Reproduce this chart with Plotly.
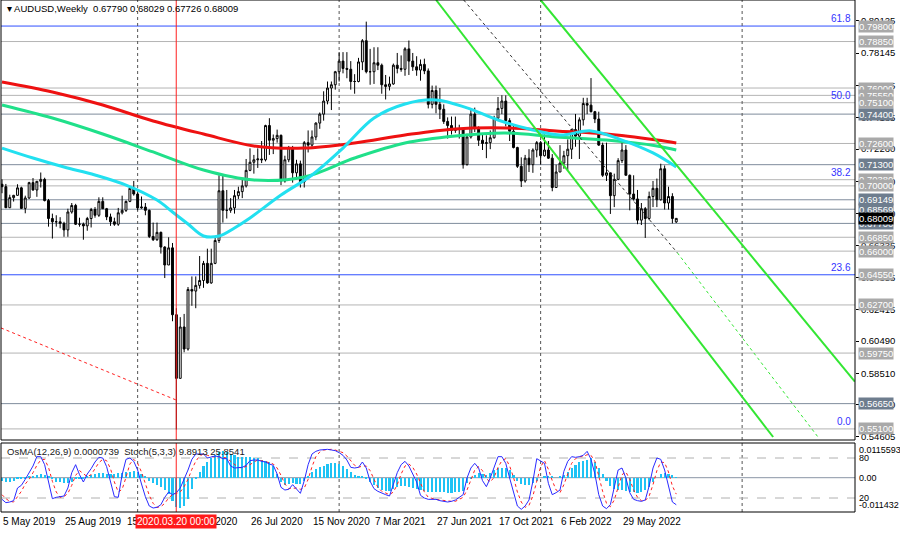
import plotly.graph_objects as go
import pandas as pd

# ---------------- data ----------------
week_start = "2019-05-05"
n_bars = 175
dates = pd.date_range(week_start, periods=n_bars, freq="7D")

opens = [0.7010,0.6995,0.6866,0.6928,0.6942,0.6988,0.6862,0.6926,0.7020,0.6975,
0.7028,0.7040,0.6910,0.6800,0.6780,0.6780,0.6770,0.6730,0.6840,0.6880,
0.6765,0.6765,0.6755,0.6800,0.6855,0.6820,0.6905,0.6860,0.6810,0.6780,
0.6765,0.6835,0.6850,0.6905,0.6985,0.6950,0.6865,0.6870,0.6850,0.6690,
0.6670,0.6715,0.6625,0.6515,0.6620,0.6210,0.5820,0.6135,0.6000,0.6365,
0.6355,0.6390,0.6420,0.6525,0.6405,0.6525,0.6665,0.6970,0.6850,0.6850,
0.6865,0.6940,0.6965,0.7000,0.7095,0.7145,0.7160,0.7165,0.7160,0.7370,
0.7280,0.7290,0.7310,0.7030,0.7160,0.7235,0.7080,0.7135,0.7025,0.7265,
0.7250,0.7300,0.7385,0.7440,0.7520,0.7600,0.7620,0.7700,0.7765,0.7720,
0.7715,0.7640,0.7640,0.7760,0.7890,0.7700,0.7700,0.7755,0.7740,0.7620,
0.7610,0.7625,0.7740,0.7720,0.7715,0.7840,0.7765,0.7730,0.7710,0.7745,
0.7705,0.7500,0.7585,0.7500,0.7470,0.7395,0.7370,0.7340,0.7350,0.7350,
0.7130,0.7300,0.7440,0.7355,0.7280,0.7260,0.7265,0.7295,0.7415,0.7475,
0.7520,0.7400,0.7335,0.7235,0.7120,0.7030,0.7170,0.7130,0.7220,0.7265,
0.7185,0.7220,0.7170,0.6990,0.7085,0.7140,0.7185,0.7225,0.7345,0.7305,
0.7405,0.7505,0.7495,0.7455,0.7410,0.7250,0.7065,0.7080,0.6940,0.7040,
0.7155,0.7220,0.7065,0.6950,0.6920,0.6790,0.6860,0.6800,0.6935,0.6985,
0.6915,0.7105,0.6895,0.6935,0.67790]

highs = [0.7040,0.7012,0.6946,0.6945,0.7010,0.6995,0.6940,0.7025,0.7048,0.7030,
0.7082,0.7050,0.6920,0.6830,0.6820,0.6808,0.6780,0.6860,0.6895,0.6890,
0.6805,0.6775,0.6810,0.6865,0.6870,0.6930,0.6930,0.6865,0.6830,0.6805,
0.6865,0.6940,0.6910,0.6995,0.7030,0.6960,0.6935,0.6895,0.6855,0.6775,
0.6775,0.6720,0.6630,0.6685,0.6650,0.6250,0.6195,0.6215,0.6380,0.6445,
0.6445,0.6570,0.6540,0.6615,0.6615,0.6685,0.7065,0.7065,0.6975,0.6925,
0.6975,0.6995,0.7040,0.7165,0.7230,0.7190,0.7230,0.7275,0.7375,0.7415,
0.7315,0.7345,0.7315,0.7185,0.7245,0.7245,0.7160,0.7155,0.7275,0.7340,
0.7340,0.7390,0.7450,0.7580,0.7640,0.7640,0.7705,0.7820,0.7820,0.7820,
0.7765,0.7685,0.7785,0.7900,0.8007,0.7840,0.7850,0.7850,0.7750,0.7680,
0.7670,0.7750,0.7815,0.7800,0.7850,0.7891,0.7815,0.7795,0.7775,0.7780,
0.7720,0.7615,0.7615,0.7600,0.7500,0.7420,0.7425,0.7425,0.7375,0.7355,
0.7320,0.7475,0.7480,0.7365,0.7315,0.7310,0.7340,0.7430,0.7545,0.7556,
0.7555,0.7415,0.7370,0.7240,0.7175,0.7190,0.7225,0.7230,0.7275,0.7275,
0.7315,0.7275,0.7195,0.7130,0.7250,0.7215,0.7285,0.7350,0.7441,0.7420,
0.7540,0.7540,0.7661,0.7460,0.7455,0.7265,0.7265,0.7080,0.7075,0.7170,
0.7283,0.7250,0.7070,0.7065,0.6975,0.6895,0.6870,0.6965,0.7030,0.7045,
0.7136,0.7125,0.6995,0.6955,0.68029]

lows = [0.6955,0.6865,0.6865,0.6904,0.6940,0.6860,0.6832,0.6920,0.6970,0.6933,
0.6990,0.6905,0.6750,0.6677,0.6750,0.6740,0.6688,0.6688,0.6830,0.6760,
0.6750,0.6670,0.6725,0.6745,0.6805,0.6810,0.6860,0.6790,0.6755,0.6755,
0.6755,0.6825,0.6840,0.6900,0.6940,0.6850,0.6860,0.6820,0.6680,0.6662,
0.6663,0.6585,0.6435,0.6515,0.6170,0.5506,0.5820,0.5980,0.5990,0.6265,
0.6250,0.6370,0.6375,0.6400,0.6400,0.6520,0.6650,0.6775,0.6800,0.6835,
0.6830,0.6920,0.6925,0.6990,0.7090,0.7075,0.7110,0.7140,0.7150,0.7190,
0.7195,0.7265,0.7005,0.7020,0.7145,0.7020,0.7040,0.6990,0.6990,0.7205,
0.7240,0.7280,0.7350,0.7400,0.7500,0.7465,0.7590,0.7640,0.7690,0.7660,
0.7590,0.7565,0.7635,0.7710,0.7690,0.7620,0.7625,0.7710,0.7565,0.7530,
0.7585,0.7620,0.7690,0.7700,0.7675,0.7680,0.7705,0.7675,0.7645,0.7685,
0.7475,0.7475,0.7445,0.7410,0.7380,0.7290,0.7315,0.7325,0.7290,0.7106,
0.7125,0.7290,0.7330,0.7245,0.7220,0.7170,0.7225,0.7290,0.7400,0.7440,
0.7365,0.7275,0.7230,0.7110,0.6993,0.7020,0.7085,0.7080,0.7175,0.7130,
0.7180,0.7165,0.6967,0.6990,0.7085,0.7105,0.7095,0.7165,0.7240,0.7165,
0.7370,0.7440,0.7450,0.7385,0.7245,0.7055,0.7030,0.6828,0.6870,0.7035,
0.7140,0.7065,0.6850,0.6910,0.6765,0.6760,0.6681,0.6790,0.6870,0.6870,
0.6910,0.6855,0.6855,0.6770,0.67726]

closes = [0.6995,0.6866,0.6928,0.6942,0.6988,0.6862,0.6926,0.7020,0.6975,0.7028,
0.7040,0.6910,0.6800,0.6780,0.6780,0.6770,0.6730,0.6840,0.6880,0.6765,
0.6765,0.6755,0.6800,0.6855,0.6820,0.6905,0.6860,0.6810,0.6780,0.6765,
0.6835,0.6850,0.6905,0.6985,0.6950,0.6865,0.6870,0.6850,0.6690,0.6670,
0.6715,0.6625,0.6515,0.6620,0.6210,0.5820,0.6135,0.6000,0.6365,0.6355,
0.6390,0.6420,0.6525,0.6405,0.6525,0.6665,0.6970,0.6850,0.6850,0.6865,
0.6940,0.6965,0.7000,0.7095,0.7145,0.7160,0.7165,0.7160,0.7370,0.7280,
0.7290,0.7310,0.7030,0.7160,0.7235,0.7080,0.7135,0.7025,0.7265,0.7250,
0.7300,0.7385,0.7440,0.7520,0.7600,0.7620,0.7700,0.7765,0.7720,0.7715,
0.7640,0.7640,0.7760,0.7890,0.7700,0.7700,0.7755,0.7740,0.7620,0.7610,
0.7625,0.7740,0.7720,0.7715,0.7840,0.7765,0.7730,0.7710,0.7745,0.7705,
0.7500,0.7585,0.7500,0.7470,0.7395,0.7370,0.7340,0.7350,0.7350,0.7130,
0.7300,0.7440,0.7355,0.7280,0.7260,0.7265,0.7295,0.7415,0.7475,0.7520,
0.7400,0.7335,0.7235,0.7120,0.7030,0.7170,0.7130,0.7220,0.7265,0.7185,
0.7220,0.7170,0.6990,0.7085,0.7140,0.7185,0.7225,0.7345,0.7305,0.7405,
0.7505,0.7495,0.7455,0.7410,0.7250,0.7065,0.7080,0.6940,0.7040,0.7155,
0.7220,0.7065,0.6950,0.6920,0.6790,0.6860,0.6800,0.6935,0.6985,0.6915,
0.7105,0.6895,0.6935,0.6800,0.68009]

ma_slow_weeks = [0,13,26,39,52,65,78,91,104,117,130,143,156,169,174]
ma_red = [0.7637,0.7576,0.7496,0.7398,0.7318,0.7245,0.7232,0.7263,0.7312,0.7349,0.7355,0.7337,0.7318,0.7281,0.7263]
ma_green = [0.7496,0.7416,0.7318,0.7208,0.7097,0.7036,0.7055,0.7171,0.7263,0.7306,0.7324,0.7300,0.7281,0.7245,0.7220]
ma_fast_weeks = [0,8,16,24,32,40,44,48,52,56,60,64,72,80,88,96,104,112,120,128,136,144,152,160,168,174]
ma_cyan = [0.7232,0.7171,0.7116,0.7067,0.7005,0.6913,0.6840,0.6766,0.6693,0.6693,0.6742,0.6803,0.6944,0.7067,
           0.7232,0.7416,0.7502,0.7527,0.7478,0.7404,0.7349,0.7312,0.7337,0.7281,0.7202,0.7116]

# OsMA(12,26,9) histogram, units of 1e-4
osma_e4 = [-10,-13,-13,-10,-6,-6,-3,3,6,10,13,10,3,-6,-13,-16,-19,-19,-13,-6,
-3,-3,3,10,13,16,16,13,13,13,16,16,19,19,22,19,13,3,-10,-19,
-25,-32,-41,-54,-76,-98,-102,-95,-70,-38,-6,19,38,51,64,76,86,89,86,80,
76,70,70,70,70,67,64,60,57,51,38,13,-16,-25,-22,-19,-22,-22,-10,6,
19,29,35,38,45,48,48,45,38,29,19,10,3,6,-3,-16,-25,-35,-41,-45,
-45,-38,-32,-29,-29,-32,-35,-38,-41,-45,-48,-48,-48,-48,-48,-51,-51,-48,-48,-45,
-19,-3,10,16,13,10,16,25,32,32,32,25,10,-10,-22,-25,-25,-19,-10,0,
6,6,3,0,3,10,19,32,41,51,57,60,64,51,32,13,-10,-29,-38,-41,
-41,-45,-48,-48,-51,-48,-41,-32,-16,0,13,16,13,10,0.7]

# Stochastic(5,3,3) main and signal
stoch_main = [18,13,14,16,35,39,48,58,68,82,82,70,46,19,21,22,23,35,58,70,
55,44,56,64,74,81,80,67,44,22,21,55,78,80,75,62,41,22,8,5,
6,10,21,29,25,28,35,48,62,78,86,86,86,80,81,83,82,79,79,68,
65,65,66,69,76,77,77,75,74,71,69,56,36,32,33,40,33,27,46,70,
86,90,92,93,93,92,91,88,84,77,66,65,66,74,65,45,34,30,27,25,
23,40,58,70,75,68,55,44,24,20,18,18,18,16,15,14,15,17,21,25,
50,65,72,65,46,37,50,65,82,82,72,50,30,8,3,8,17,45,79,76,
72,42,25,28,32,60,75,82,81,82,84,90,78,56,25,8,4,10,38,62,
65,50,28,18,16,15,17,38,65,80,78,62,38,14,9.8913]
stoch_signal = [25,19,15,14,22,30,41,48,58,69,77,78,66,45,29,21,22,27,39,54,
61,56,52,55,65,73,78,76,64,44,29,33,51,71,78,72,59,42,24,12,
6,7,12,20,25,27,29,37,48,63,75,83,86,84,82,81,82,81,80,75,
71,66,65,67,70,74,77,76,75,73,71,65,54,41,34,35,35,33,35,48,
67,82,89,92,93,93,92,90,88,83,76,69,66,68,68,61,48,36,30,27,
25,29,40,56,68,71,66,56,41,29,21,19,18,17,16,15,15,15,18,21,
32,47,62,67,61,49,44,51,66,76,79,68,51,29,14,6,9,23,47,67,
76,63,46,32,28,40,56,72,79,82,82,85,84,75,53,30,12,7,17,37,
55,59,48,32,21,16,16,23,40,61,74,73,59,38,25.8541]

# horizontal levels (price, label, kind)
level_prices = [0.7980,0.7885,0.7600,0.7555,0.7510,0.7440,0.7260,0.7130,0.7038,0.7000,
                0.69149,0.68569,0.6770,0.6685,0.6600,0.6455,0.6270,0.5975,0.5665,0.5510]
level_labels = ["0.79800","0.78850","0.76000","0.75550","0.75100","0.74400","0.72600","0.71300","0.70380","0.70000",
                "0.69149","0.68569","0.67700","0.66850","0.66000","0.64550","0.62700","0.59750","0.56650","0.55100"]
level_kind = ["fib","light","light","light","light","dark","light","dark","light","light",
              "dark","dark","dark","light","light","fib","light","light","dark","light"]
fib_prices = [0.7982,0.7510,0.7038,0.6454,0.5510]
fib_labels = ["61.8","50.0","38.2","23.6","0.0"]

price_ticks = [0.80125,0.78145,0.76165,0.74185,0.72260,0.70280,0.68300,0.66335,0.64355,0.62415,0.60490,0.58510,0.56580,0.54605]
current_price = 0.68009

date_label_weeks = [0,16,32,48,64,80,96,112,128,144,160]
date_label_texts = ["5 May 2019","25 Aug 2019","15 Dec 2019","5 Apr 2020","26 Jul 2020","15 Nov 2020",
                    "7 Mar 2021","27 Jun 2021","17 Oct 2021","6 Feb 2022","29 May 2022"]
year_separators = ["2020-01-05","2021-01-03","2022-01-02","2023-01-01"]
marker_time = "2020-03-14 18:00"
marker_label = "2020.03.20 00:00"

# trend/channel lines (date, price) pairs
chan1 = (["2021-06-27 05:00","2023-02-26 01:00"], [0.81397,0.54604])
chan2 = (["2022-01-02 00:00","2023-07-23 16:00"], [0.81397,0.57995])
thin_dark = (["2021-08-16","2022-09-06"], [0.81397,0.65898])
thin_green = (["2022-09-06","2023-05-18"], [0.65898,0.54604])
red_dash = (["2019-05-03 05:00","2020-03-14 18:00"], [0.6129,0.5687])

x_range = ["2019-05-03 04:40","2023-07-23 21:00"]
y_main = [0.54420, 0.81397]
osma_range = [-0.011432, 0.0115593]
stoch_range = [-1, 102.5]

# ---------------- figure ----------------
FONT = "Liberation Sans, Arial, sans-serif"
LBL = 9.5
fig = go.Figure()

fig.add_trace(go.Candlestick(
    x=dates, open=opens, high=highs, low=lows, close=closes,
    increasing=dict(line=dict(color="black", width=1), fillcolor="white"),
    decreasing=dict(line=dict(color="black", width=1), fillcolor="black"),
    whiskerwidth=0, showlegend=False, hoverinfo="skip", xaxis="x", yaxis="y"))

fig.add_trace(go.Scatter(x=dates[ma_slow_weeks], y=ma_green, mode="lines",
                         line=dict(color="#20e08a", width=3, shape="spline"), xaxis="x", yaxis="y", showlegend=False))
fig.add_trace(go.Scatter(x=dates[ma_slow_weeks], y=ma_red, mode="lines",
                         line=dict(color="#ee1111", width=3, shape="spline"), xaxis="x", yaxis="y", showlegend=False))
fig.add_trace(go.Scatter(x=dates[ma_fast_weeks], y=ma_cyan, mode="lines",
                         line=dict(color="#22e0f0", width=3, shape="spline"), xaxis="x", yaxis="y", showlegend=False))

for (xs, ys), col, w, dash in [(chan1, "#33e633", 2, "solid"), (chan2, "#33e633", 2, "solid"),
                               (thin_dark, "#333333", 1, "dot"), (thin_green, "#33e633", 1, "dot"),
                               (red_dash, "#ff2020", 1, "dot")]:
    fig.add_trace(go.Scatter(x=xs, y=ys, mode="lines", line=dict(color=col, width=w, dash=dash),
                             xaxis="x", yaxis="y", showlegend=False, hoverinfo="skip"))

# oscillator
fig.add_trace(go.Bar(x=dates, y=[v * 1e-4 for v in osma_e4], marker=dict(color="#1ec3f5", line=dict(width=0)),
                     width=7 * 24 * 3600 * 1000 * 0.55, xaxis="x", yaxis="y2", showlegend=False))
fig.add_trace(go.Scatter(x=dates, y=stoch_signal, mode="lines", line=dict(color="#ff2020", width=1, dash="dot"),
                         xaxis="x", yaxis="y3", showlegend=False))
fig.add_trace(go.Scatter(x=dates, y=stoch_main, mode="lines", line=dict(color="#2a2aff", width=1),
                         xaxis="x", yaxis="y3", showlegend=False))

PLOT_H = 512.0
PLOT_W = 854.0
main_dom = [1 - 440 / PLOT_H, 1.0]
osc_dom = [0.0, 69 / PLOT_H]

shapes = []
annotations = []

for p, k in zip(level_prices, level_kind):
    col = {"fib": "#2f4fff", "light": "#b4b4b4", "dark": "#7f8c9c"}[k]
    shapes.append(dict(type="line", xref="paper", x0=0, x1=1, yref="y", y0=p, y1=p,
                       line=dict(color=col, width=1), layer="below"))
for d in year_separators:
    for dom in [main_dom, osc_dom]:
        shapes.append(dict(type="line", xref="x", x0=d, x1=d, yref="paper", y0=dom[0], y1=dom[1],
                           line=dict(color="#555555", width=1, dash="dot"), layer="below"))
for dom in [main_dom, osc_dom]:
    shapes.append(dict(type="line", xref="x", x0=marker_time, x1=marker_time, yref="paper", y0=dom[0], y1=dom[1],
                       line=dict(color="#ff2020", width=1)))
for lv in [80, 20]:
    shapes.append(dict(type="line", xref="paper", x0=0, x1=1, yref="y3", y0=lv, y1=lv,
                       line=dict(color="#b0b0b0", width=1, dash="dash"), layer="below"))
shapes.append(dict(type="line", xref="paper", x0=0, x1=1, yref="y2", y0=0, y1=0,
                   line=dict(color="#8a96a6", width=1), layer="below"))
for dom in [main_dom, osc_dom]:
    shapes.append(dict(type="rect", xref="paper", x0=0, x1=1, yref="paper", y0=dom[0], y1=dom[1],
                       line=dict(color="black", width=1), fillcolor="rgba(0,0,0,0)"))

for p, t, k in zip(level_prices, level_labels, level_kind):
    bg = "#6e7d8e" if k == "dark" else "#a9a9a9"
    annotations.append(dict(xref="paper", x=1, xanchor="left", xshift=3, yref="y", y=p, yanchor="middle",
                            text=t, showarrow=False, bgcolor=bg, borderpad=0,
                            font=dict(family=FONT, size=LBL, color="white")))
annotations.append(dict(xref="paper", x=1, xanchor="left", xshift=3, yref="y", y=current_price, yanchor="middle",
                        text="0.68009", showarrow=False, bgcolor="black", borderpad=0,
                        font=dict(family=FONT, size=LBL, color="white")))
for p, t in zip(fib_prices, fib_labels):
    annotations.append(dict(xref="paper", x=1, xanchor="right", xshift=-2, yref="y", y=p, yanchor="bottom",
                            text=t, showarrow=False, font=dict(family=FONT, size=10, color="#3333ff")))
annotations.append(dict(xref="paper", x=4 / PLOT_W, xanchor="left", yref="paper", y=1 - 8 / PLOT_H, yanchor="middle",
                        text="▾ AUDUSD,Weekly  0.67790 0.68029 0.67726 0.68009", showarrow=False,
                        font=dict(family=FONT, size=9.5, color="black")))
annotations.append(dict(xref="paper", x=4 / PLOT_W, xanchor="left", yref="paper", y=1 - 451 / PLOT_H, yanchor="middle",
                        text="OsMA(12,26,9) 0.0000739  Stoch(5,3,3) 9.8913 25.8541", showarrow=False,
                        font=dict(family=FONT, size=9.5, color="#202020")))
for w, t in zip(date_label_weeks, date_label_texts):
    annotations.append(dict(xref="x", x=dates[w], xanchor="left", xshift=-1, yref="paper", y=-9 / PLOT_H,
                            yanchor="middle", text=t, showarrow=False, font=dict(family=FONT, size=10, color="black")))
annotations.append(dict(xref="x", x=marker_time, xanchor="center", yref="paper", y=-9 / PLOT_H, yanchor="middle",
                        text=marker_label, showarrow=False, bgcolor="#ff1a1a", borderpad=1,
                        font=dict(family=FONT, size=10, color="white")))
for yv, t, ya in [(0.0115593, "0.0115593", "top"), (0.0, "0.00", "middle"), (-0.011432, "-0.011432", "bottom")]:
    annotations.append(dict(xref="paper", x=1, xanchor="left", xshift=2, yref="y2", y=yv, yanchor=ya,
                            text=t, showarrow=False, font=dict(family=FONT, size=9, color="black")))
for yv, t in [(80, "80"), (20, "20")]:
    annotations.append(dict(xref="paper", x=1, xanchor="left", xshift=2, yref="y3", y=yv, yanchor="middle",
                            text=t, showarrow=False, font=dict(family=FONT, size=9, color="black")))

fig.update_layout(
    width=900, height=535, margin=dict(l=1, r=45, t=0, b=23, pad=0, autoexpand=False),
    paper_bgcolor="white", plot_bgcolor="white",
    showlegend=False, hovermode=False, bargap=0,
    xaxis=dict(type="date", range=x_range, showgrid=False, zeroline=False, showticklabels=False,
               anchor="y2", rangeslider=dict(visible=False), fixedrange=True, automargin=False),
    yaxis=dict(domain=main_dom, range=y_main, side="right", showgrid=False, zeroline=False,
               tickvals=price_ticks, ticktext=[f"{v:.5f}" for v in price_ticks],
               ticks="outside", ticklen=3, tickcolor="black", automargin=False,
               tickfont=dict(family=FONT, size=LBL, color="black"), anchor="x"),
    yaxis2=dict(domain=osc_dom, range=osma_range, side="right", showgrid=False, zeroline=False,
                showticklabels=False, anchor="x", automargin=False),
    yaxis3=dict(domain=osc_dom, range=stoch_range, overlaying="y2", side="right", showgrid=False,
                zeroline=False, showticklabels=False, anchor="x", automargin=False),
    shapes=shapes, annotations=annotations,
)

fig.write_html("out.html", config={"displayModeBar": False},
               post_script="document.body.style.margin='0';document.body.style.padding='0';")
